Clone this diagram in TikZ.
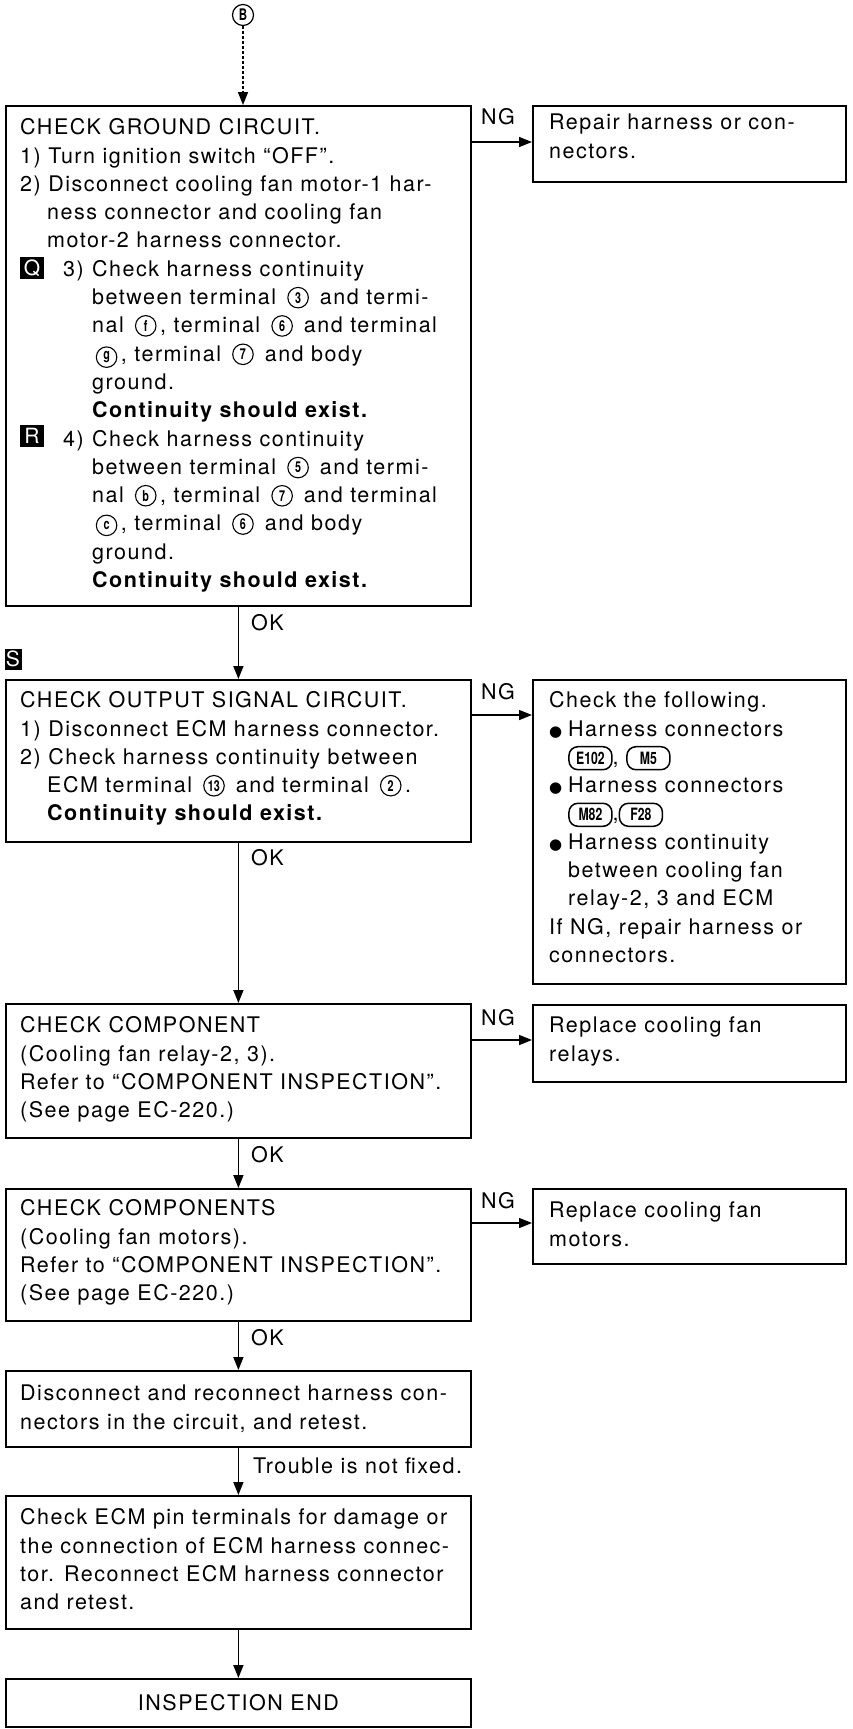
\documentclass[tikz,border=0pt]{standalone}
\usepackage{fontspec}
\usepackage{graphicx}
\setmainfont{TeX Gyre Heros}[LetterSpace=7]
\newfontfamily\dejavu{DejaVu Sans}
\newfontfamily\pillfont{TeX Gyre Heros}[FakeStretch=0.72]
\usetikzlibrary{arrows.meta}
\newcommand\cn[1]{\,\tikz[baseline={([yshift=-1.5pt]circbox.base)}]\node[circle,draw,line width=1.1pt,inner sep=0pt,minimum size=20.5pt,font=\pillfont\bfseries\fontsize{15}{15}\selectfont](circbox){#1};\,}
\newcommand\bul{\makebox[19pt][l]{\dejavu\fontsize{15}{15}\selectfont ●}}
\newcommand\pill[1]{\tikz[baseline=(pillbox.base)]\node[draw,line width=1.5pt,rounded corners=9pt,minimum width=43pt,minimum height=23pt,inner sep=0pt,font=\pillfont\bfseries\fontsize{17}{17}\selectfont](pillbox){#1};}
\begin{document}
\begin{tikzpicture}[x=1pt,y=-1pt,
  box/.style={draw,line width=1.8pt,inner sep=0pt,anchor=north west},
  txt/.style={anchor=north west,inner sep=0pt,align=left,font=\fontsize{21.5}{28.3}\selectfont},
  flow/.style={line width=1.5pt,-{Triangle[width=10pt,length=13pt]}},
  lbl/.style={inner sep=0pt,anchor=base west,font=\fontsize{21.5}{28.3}\selectfont},
  tag/.style={fill=black,text=white,inner sep=0pt,minimum width=24pt,minimum height=22pt,font=\fontsize{21}{21}\selectfont}]
\useasboundingbox (0,0) rectangle (853,1729);

% boxes
\node[box,minimum width=465pt,minimum height=500pt] (b1) at (5,105) {};
\node[box,minimum width=313pt,minimum height=76pt] (r1) at (532,105) {};
\node[box,minimum width=465pt,minimum height=162pt] (b2) at (5,679) {};
\node[box,minimum width=313pt,minimum height=304pt] (r2) at (532,679) {};
\node[box,minimum width=465pt,minimum height=134pt] (b3) at (5,1003) {};
\node[box,minimum width=313pt,minimum height=77pt] (r3) at (532,1004) {};
\node[box,minimum width=465pt,minimum height=132pt] (b4) at (5,1188) {};
\node[box,minimum width=313pt,minimum height=75pt] (r4) at (532,1188) {};
\node[box,minimum width=465pt,minimum height=76pt] (b5) at (5,1370) {};
\node[box,minimum width=465pt,minimum height=133pt] (b6) at (5,1495) {};
\node[box,minimum width=465pt,minimum height=48pt,font=\fontsize{21.5}{28.3}\selectfont] (b7) at (5,1678) {INSPECTION END};

% texts
\node[txt] (t1) at (20,114.7) {\strut CHECK GROUND CIRCUIT.\\
1) Turn ignition switch ``OFF''.\\
2) Disconnect cooling fan motor-1 har-\\
\hspace*{27pt}ness connector and cooling fan\\
\hspace*{27pt}motor-2 harness connector.\\
\hspace*{43pt}\makebox[29pt][l]{3)}Check harness continuity\\
\hspace*{72pt}between terminal \cn{3} and termi-\\
\hspace*{72pt}nal \cn{f}, terminal \cn{6} and terminal\\
\hspace*{72pt}\cn{g}, terminal \cn{7} and body\\
\hspace*{72pt}ground.\\
\hspace*{72pt}\textbf{Continuity should exist.}\\
\hspace*{43pt}\makebox[29pt][l]{4)}Check harness continuity\\
\hspace*{72pt}between terminal \cn{5} and termi-\\
\hspace*{72pt}nal \cn{b}, terminal \cn{7} and terminal\\
\hspace*{72pt}\cn{c}, terminal \cn{6} and body\\
\hspace*{72pt}ground.\\
\hspace*{72pt}\textbf{Continuity should exist.}};
\node[tag] (q) at (32,268) {Q};
\node[tag] (r) at (32,436) {R};

\node[txt] (tr1) at (549,109.7) {\strut Repair harness or con-\\nectors.};

\node[tag,minimum width=17pt,minimum height=21pt] (s) at (13,659) {S};
\node[txt] (t2) at (20,687.7) {\strut CHECK OUTPUT SIGNAL CIRCUIT.\\
1) Disconnect ECM harness connector.\\
2) Check harness continuity between\\
\hspace*{27pt}ECM terminal \cn{13} and terminal \cn{2}.\\
\hspace*{27pt}\textbf{Continuity should exist.}};

\node[txt] (tr2) at (549,687.7) {\strut Check the following.\\
\bul Harness connectors\\
\hspace*{19pt}\pill{E102}, \pill{M5}\\
\bul Harness connectors\\
\hspace*{19pt}\pill{M82},\pill{F28}\\
\bul Harness continuity\\
\hspace*{19pt}between cooling fan\\
\hspace*{19pt}relay-2, 3 and ECM\\
If NG, repair harness or\\
connectors.};

\node[txt] (t3) at (20,1012.7) {\strut CHECK COMPONENT\\
(Cooling fan relay-2, 3).\\
Refer to ``COMPONENT INSPECTION''.\\
(See page EC-220.)};
\node[txt] (tr3) at (549,1012.7) {\strut Replace cooling fan\\relays.};

\node[txt] (t4) at (20,1195.7) {\strut CHECK COMPONENTS\\
(Cooling fan motors).\\
Refer to ``COMPONENT INSPECTION''.\\
(See page EC-220.)};
\node[txt] (tr4) at (549,1197.7) {\strut Replace cooling fan\\motors.};

\node[txt] (t5) at (20,1380.7) {\strut Disconnect and reconnect harness con-\\
nectors in the circuit, and retest.};

\node[txt] (t6) at (20,1504.7) {\strut Check ECM pin terminals for damage or\\
the connection of ECM harness connec-\\
tor. Reconnect ECM harness connector\\
and retest.};

% top connector
\node[circle,draw,line width=1.2pt,inner sep=0pt,minimum size=21pt,font=\pillfont\bfseries\fontsize{16}{16}\selectfont] (B) at (243,15) {B};
\draw[flow,densely dashed] (B.south) -- (B.south |- b1.north);

% OK connectors
\draw[flow] (b1.south) -- (b2.north);
\node[lbl] (ok1) at (251,630.5) {OK};
\draw[flow] (b2.south) -- (b3.north);
\node[lbl] (ok2) at (251,865.5) {OK};
\draw[flow] (b3.south) -- (b4.north);
\node[lbl] (ok3) at (251,1162.5) {OK};
\draw[flow] (b4.south) -- (b5.north);
\node[lbl] (ok4) at (251,1345.5) {OK};
\draw[flow] (b5.south) -- (b6.north);
\node[lbl] (tr) at (253,1473) {Trouble is not fixed.};
\draw[flow] (b6.south) -- (b7.north);

% NG connectors
\draw[flow] ([yshift=-37pt]b1.north east) -- ([yshift=-37pt]b1.north east -| r1.west);
\node[lbl] (ng1) at (481,124.5) {NG};
\draw[flow] ([yshift=-36pt]b2.north east) -- ([yshift=-36pt]b2.north east -| r2.west);
\node[lbl] (ng2) at (481,699.5) {NG};
\draw[flow] ([yshift=-37pt]b3.north east) -- ([yshift=-37pt]b3.north east -| r3.west);
\node[lbl] (ng3) at (481,1025.5) {NG};
\draw[flow] ([yshift=-35pt]b4.north east) -- ([yshift=-35pt]b4.north east -| r4.west);
\node[lbl] (ng4) at (481,1208.5) {NG};
\end{tikzpicture}
\end{document}
